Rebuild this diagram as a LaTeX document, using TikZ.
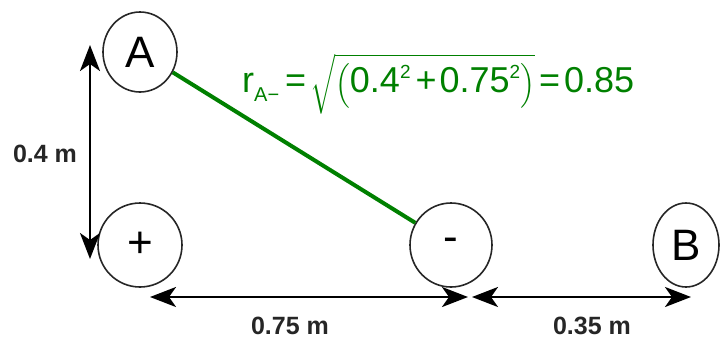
\documentclass[tikz,border=0pt]{standalone}
\usepackage{amsmath}
\usepackage{fontspec}
\setmainfont{Liberation Sans}
\usetikzlibrary{arrows.meta,shapes.geometric}
\definecolor{eqgreen}{RGB}{0,128,0}
\newcommand\lowidx[1]{\raisebox{-9pt}{\fontsize{20}{20}\selectfont #1}}
\newcommand\highidx[1]{\raisebox{14pt}{\fontsize{19}{19}\selectfont #1}}
\begin{document}
\begin{tikzpicture}[x=1pt,y=-1pt,
  charge/.style={ellipse,draw=black!85,line width=1.6pt,inner sep=0pt,font=\fontsize{44}{48}\selectfont},
  dim/.style={line width=2.6pt,{Stealth[length=26pt,width=20pt,inset=7pt]}-{Stealth[length=26pt,width=20pt,inset=7pt]}},
  dimlabel/.style={inner sep=0pt,font=\fontsize{25}{28}\selectfont\bfseries,text=black!85}]
\useasboundingbox (0,0) rectangle (720,341);
\node[charge,minimum width=74pt,minimum height=80pt] (A) at (140,52) {A};
\node[charge,minimum width=84pt,minimum height=84pt] (p) at (140,245) {+};
\node[charge,minimum width=82pt,minimum height=84pt] (m) at (451,245) {-};
\node[charge,minimum width=66pt,minimum height=84pt] (B) at (686,245) {B};
\draw[eqgreen,line width=4pt] (A) -- (m);
\coordinate (v1) at (90,45);
\coordinate (v2) at (90,259);
\coordinate (h1) at (150,297);
\coordinate (h2) at (468,297);
\coordinate (h3) at (472,297);
\coordinate (h4) at (691,297);
\draw[dim] (v1) -- (v2);
\draw[dim] (h1) -- (h2);
\draw[dim] (h3) -- (h4);
\node[dimlabel] (l1) at (45,154) {0.4 m};
\node[dimlabel] (l2) at (290,326) {0.75 m};
\node[dimlabel] (l3) at (592,326) {0.35 m};
\node[anchor=base west,inner sep=0pt,text=eqgreen,font=\fontsize{36}{40}\selectfont] (eq) at (242,92)
  {r\lowidx{A−}\hspace{6pt}=\hspace{4pt}$\sqrt{\left(\text{0.4\highidx{2}\hspace{5pt}+\hspace{3pt}0.75\highidx{2}}\right)}$\hspace{4pt}=\hspace{4pt}0.85};
\end{tikzpicture}
\end{document}
